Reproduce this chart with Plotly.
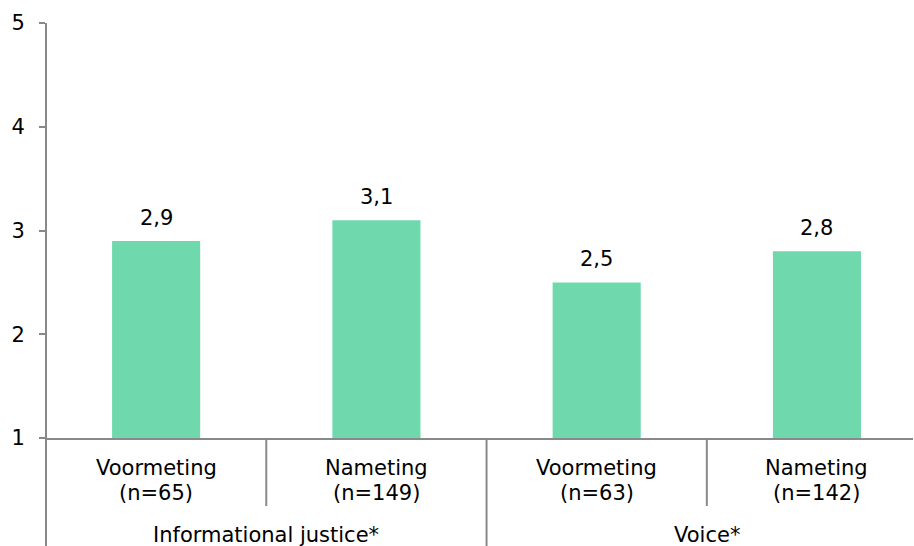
import plotly.graph_objects as go

# Data
groups = ["Informational justice*", "Voice*"]
cat_line1 = ["Voormeting", "Nameting", "Voormeting", "Nameting"]
cat_line2 = ["(n=65)", "(n=149)", "(n=63)", "(n=142)"]
category_group = [0, 0, 1, 1]
values = [2.9, 3.1, 2.5, 2.8]
y_ticks = [1, 2, 3, 4, 5]

BAR_COLOR = "#6FD9AD"
AXIS_COLOR = "#898989"
FONT = "DejaVu Sans, Verdana, sans-serif"
FS = 21

x_pos = list(range(len(values)))
base = 1

fig = go.Figure()
fig.add_trace(go.Bar(
    x=x_pos,
    y=[v - base for v in values],
    base=base,
    width=0.4,
    marker=dict(color=BAR_COLOR, line=dict(width=0)),
    hoverinfo="skip",
))

# value labels
for xi, v in zip(x_pos, values):
    fig.add_annotation(
        x=xi, y=v, xref="x", yref="y",
        text=f"{v:.1f}".replace(".", ","),
        showarrow=False, yanchor="middle", yshift=23,
        font=dict(family=FONT, size=FS, color="#000000"),
    )

plot_h = 415.0
bottom_m = 108.0

# category labels (two lines each)
for xi, l1, l2 in zip(x_pos, cat_line1, cat_line2):
    for txt, yc in ((l1, 30), (l2, 55)):
        fig.add_annotation(
            x=xi, y=-(yc / plot_h), xref="x", yref="paper",
            text=txt, showarrow=False, yanchor="middle",
            font=dict(family=FONT, size=FS, color="#000000"),
        )

# group labels
for gi, g in enumerate(groups):
    members = [xi for xi, cg in zip(x_pos, category_group) if cg == gi]
    cx = (members[0] + members[-1]) / 2
    fig.add_annotation(
        x=cx, y=-(97 / plot_h), xref="x", yref="paper",
        text=g, showarrow=False, yanchor="middle",
        font=dict(family=FONT, size=FS, color="#000000"),
    )

shapes = []
# y-axis line extended below the plot
shapes.append(dict(type="line", xref="paper", yref="paper", x0=0, x1=0,
                   y0=-(bottom_m + 2) / plot_h, y1=1,
                   line=dict(color=AXIS_COLOR, width=2)))
# dividers between categories
for xi in range(len(values) - 1):
    same_group = category_group[xi] == category_group[xi + 1]
    depth = 68 if same_group else bottom_m + 2
    shapes.append(dict(type="line", xref="x", yref="paper", x0=xi + 0.5, x1=xi + 0.5,
                       y0=-depth / plot_h, y1=0,
                       line=dict(color=AXIS_COLOR, width=2)))

fig.update_layout(
    width=914, height=546,
    margin=dict(l=46, r=1, t=23, b=108),
    paper_bgcolor="white", plot_bgcolor="white",
    showlegend=False,
    shapes=shapes,
    font=dict(family=FONT, size=FS, color="#000000"),
    xaxis=dict(range=[-0.5, 3.436], showticklabels=False, ticks="",
               showgrid=False, zeroline=False, showline=True,
               linecolor=AXIS_COLOR, linewidth=2, fixedrange=True),
    yaxis=dict(range=[1, 5], tickvals=y_ticks, ticks="outside", ticklen=6,
               tickcolor=AXIS_COLOR, tickwidth=2, showgrid=False, zeroline=False,
               showline=False, ticklabelstandoff=10,
               tickfont=dict(family=FONT, size=FS, color="#000000"), fixedrange=True),
)

fig.write_html(
    "out.html",
    config={"displayModeBar": False},
    post_script="document.body.style.margin='0';document.body.style.overflow='hidden';",
)
